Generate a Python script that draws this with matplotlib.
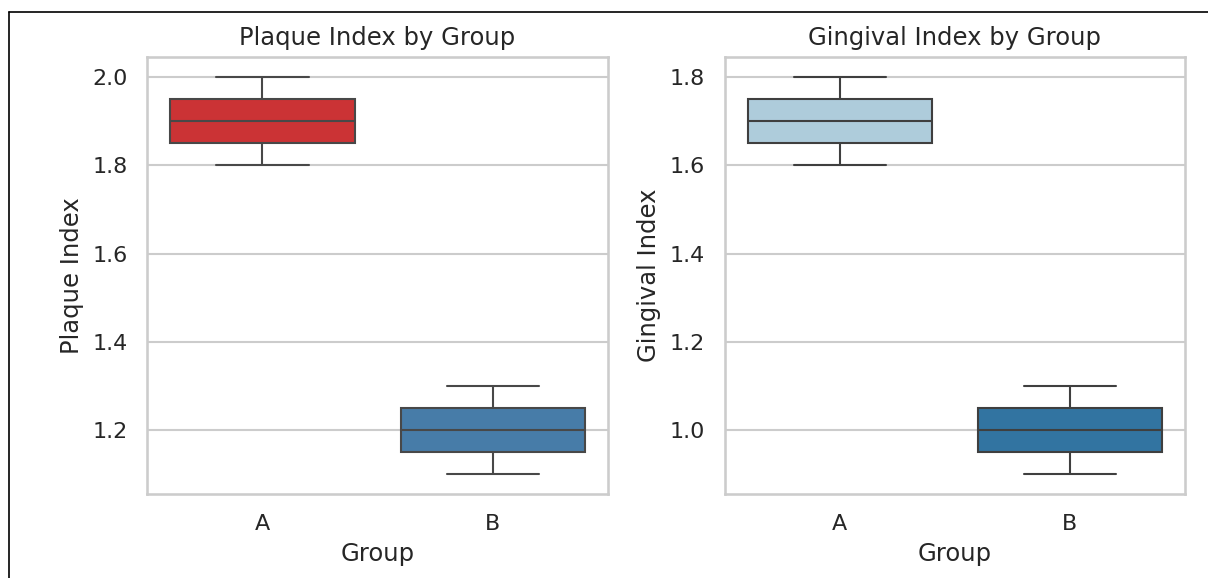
import pandas as pd
import seaborn as sns
import matplotlib.pyplot as plt
from matplotlib.lines import Line2D

# Dental index data per group
groups = ["A", "A", "A", "B", "B", "B"]
plaque = [1.8, 1.9, 2.0, 1.1, 1.2, 1.3]
gingival = [1.6, 1.7, 1.8, 0.9, 1.0, 1.1]

df = pd.DataFrame({"Group": groups, "Plaque Index": plaque, "Gingival Index": gingival})

sns.set_theme(style="whitegrid", font_scale=0.97)
plt.rcParams['font.family'] = ['DejaVu Sans']

fig, axes = plt.subplots(1, 2, figsize=(1208 / 150, 578 / 150), dpi=150)

sns.boxplot(data=df, x="Group", y="Plaque Index", hue="Group", palette="Set1",
            legend=False, ax=axes[0])
axes[0].set_title("Plaque Index by Group")

sns.boxplot(data=df, x="Group", y="Gingival Index", hue="Group", palette="Paired",
            legend=False, ax=axes[1])
axes[1].set_title("Gingival Index by Group")

fig.subplots_adjust(left=0.122, right=0.981, top=0.901, bottom=0.145, wspace=0.254)

# screenshot frame on top/left edges
fig.add_artist(Line2D([9 / 1208, 1], [1 - 12 / 578, 1 - 12 / 578], color="black", lw=0.8))
fig.add_artist(Line2D([9 / 1208, 9 / 1208], [0, 1 - 12 / 578], color="black", lw=0.8))

fig.savefig("out.png", dpi=150)
